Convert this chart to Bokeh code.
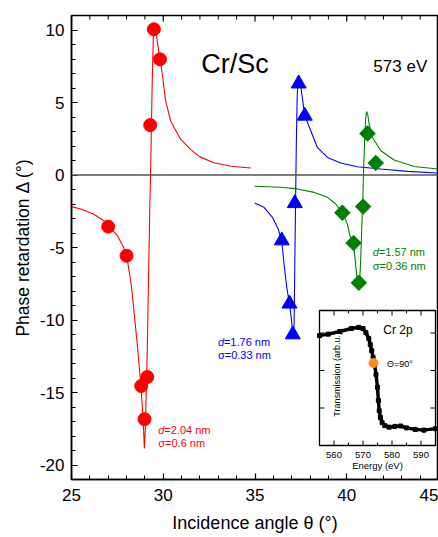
import numpy as np
from bokeh.plotting import figure
from bokeh.models import Range1d, SingleIntervalTicker, Span, Label, CustomJSTickFormatter
from bokeh.embed import file_html
from bokeh.resources import INLINE

FONT = "Liberation Sans"

# ---------------- data ----------------
# measured points
red_x = [27.0, 28.0, 28.8, 28.98, 29.13, 29.29, 29.49, 29.82]
red_y = [-3.56, -5.57, -14.55, -16.84, -13.93, 3.44, 10.05, 7.98]
blue_x = [36.46, 36.88, 37.06, 37.17, 37.38, 37.71]
blue_y = [-4.52, -8.88, -11.0, -1.95, 6.3, 4.08]
green_x = [39.76, 40.37, 40.66, 40.89, 41.13, 41.58]
green_y = [-2.6, -4.69, -7.43, -2.18, 2.86, 0.83]

# fitted curves
red_fit_x = [25.0, 25.5, 26.2, 26.7, 27.0, 27.5, 27.85, 28.05, 28.25, 28.4, 28.58, 28.71,
             28.8, 28.87, 28.93, 28.97, 29.02, 29.05, 29.09, 29.13, 29.2, 29.27, 29.31,
             29.35, 29.4, 29.46, 29.5, 29.6, 29.7, 29.82, 29.95, 30.13, 30.4, 30.95,
             31.5, 32.0, 32.75, 33.7, 34.77]
red_fit_y = [-2.18, -2.35, -2.69, -3.1, -3.45, -4.18, -5.02, -5.9, -7.5, -9.34, -11.63, -13.47,
             -14.85, -16.2, -17.6, -18.86, -17.6, -16.0, -13.9, -12.1, -7.0, -2.0, 0.0,
             3.0, 6.5, 9.5, 10.3, 9.9, 9.0, 7.98, 6.95, 5.11, 3.73, 2.45,
             1.75, 1.25, 0.85, 0.6, 0.48]
blue_fit_x = [34.98, 35.49, 35.95, 36.26, 36.46, 36.58, 36.73, 36.88, 36.99, 37.06, 37.1,
              37.13, 37.17, 37.21, 37.25, 37.3, 37.37, 37.45, 37.58, 37.71, 38.04, 38.4,
              38.95, 39.67, 40.58, 41.86, 43.31, 44.95]
blue_fit_y = [-1.93, -2.23, -2.92, -3.72, -4.52, -6.13, -7.74, -8.88, -10.03, -10.9, -11.2,
              -10.3, -6.0, -2.0, 2.0, 5.5, 6.8, 6.5, 5.34, 4.08, 3.05, 1.9,
              1.21, 0.83, 0.57, 0.41, 0.25, 0.14]
green_fit_x = [34.98, 36.4, 37.31, 38.22, 38.95, 39.4, 39.76, 40.03, 40.17, 40.37, 40.48,
               40.58, 40.65, 40.72, 40.77, 40.83, 40.88, 40.92, 40.98, 41.03, 41.08, 41.14,
               41.22, 41.4, 41.86, 42.58, 43.67, 44.95]
green_fit_y = [-0.78, -0.85, -0.96, -1.2, -1.54, -2.0, -2.6, -3.37, -4.18, -4.75, -6.13,
               -7.4, -7.7, -7.0, -5.4, -3.3, -1.5, 0.5, 2.5, 3.9, 4.38, 4.2,
               3.5, 2.59, 1.67, 1.03, 0.59, 0.41]

# inset: transmission spectrum
trans_e = [555, 558, 562, 566, 568.5, 570, 571, 572, 572.5, 573, 573.5, 574, 574.5, 575,
           575.3, 575.6, 576, 576.6, 577.5, 579, 581, 583, 585, 588, 591, 595]
trans_v = [2.93, 2.97, 3.04, 3.12, 3.15, 3.12, 3.01, 2.85, 2.69, 2.53, 2.35, 2.16, 1.89, 1.55,
           1.2, 0.93, 0.75, 0.61, 0.53, 0.49, 0.51, 0.52, 0.47, 0.43, 0.41, 0.45]
mark_e = [573.6]
mark_v = [2.2]

inset_xticks = [560, 570, 580, 590]
inset_yticks = [1, 2, 3]

# texts
x_title = "Incidence angle θ (°)"
y_title = "Phase retardation Δ (°)"
title_text = "Cr/Sc"
energy_text = "573 eV"
red_d, red_s = "=2.04 nm", "σ=0.6 nm"
blue_d, blue_s = "=1.76 nm", "σ=0.33 nm"
green_d, green_s = "=1.57 nm", "σ=0.36 nm"

# ---------------- layout ----------------
W, H = 438, 537
FL, FR, FT, FB = 71, 438, 15, 479
X0, X1, Y0, Y1 = 25, 45, -21, 11

RED, BLUE, GREEN = "#ff0000", "#0000ff", "#008000"

p = figure(width=W, height=H, x_range=Range1d(X0, X1), y_range=Range1d(Y0, Y1),
           output_backend="svg", toolbar_location=None,
           min_border_left=FL, min_border_right=W - FR, min_border_top=FT,
           min_border_bottom=H - FB)
p.grid.visible = False
p.outline_line_color = "black"
p.outline_line_width = 1.5
p.background_fill_color = "white"
p.border_fill_color = "white"

fmt = CustomJSTickFormatter(code="return tick.toString();")


def style_axis(ax, maj=6, mnr=4):
    ax.ticker = SingleIntervalTicker(interval=5, num_minor_ticks=5)
    ax.formatter = fmt
    ax.major_tick_in = maj
    ax.major_tick_out = 0
    ax.minor_tick_in = mnr
    ax.minor_tick_out = 0
    ax.axis_line_width = 1.5
    ax.axis_line_color = "black"
    ax.major_tick_line_width = 1.2
    ax.minor_tick_line_width = 1
    ax.major_tick_line_color = "black"
    ax.minor_tick_line_color = "black"
    ax.major_label_text_font = FONT
    ax.major_label_text_font_size = "17px"
    ax.major_label_text_color = "black"
    ax.axis_label_text_font = FONT
    ax.axis_label_text_font_style = "normal"
    ax.axis_label_text_color = "black"


xb = p.below[0]
yl = p.left[0]
style_axis(xb)
style_axis(yl)

xb.axis_label = x_title
xb.axis_label_text_font_size = "18px"
xb.major_label_standoff = 9
xb.axis_label_standoff = 9
yl.axis_label = y_title
yl.axis_label_text_font_size = "17.5px"
yl.major_label_standoff = 7
yl.axis_label_standoff = 4

ypx = (Y1 - Y0) / (FB - FT)   # data units per pixel (y)

# mirrored ticks on the top edge
top_major = list(range(X0, X1 + 1, 5))
top_minor = [v for v in range(X0, X1 + 1) if v % 5]
p.segment(x0=top_major, y0=[Y1] * len(top_major), x1=top_major,
          y1=[Y1 - 6 * ypx] * len(top_major), line_color="black", line_width=1.2)
p.segment(x0=top_minor, y0=[Y1] * len(top_minor), x1=top_minor,
          y1=[Y1 - 4 * ypx] * len(top_minor), line_color="black", line_width=1)

p.add_layout(Span(location=0, dimension="width", line_color="#555555", line_width=1.5))

# fitted curves
p.line(red_fit_x, red_fit_y, line_color=RED, line_width=1.1)
p.line(blue_fit_x, blue_fit_y, line_color=BLUE, line_width=1.1)
p.line(green_fit_x, green_fit_y, line_color=GREEN, line_width=1.1)

# measured points
p.scatter(red_x, red_y, marker="circle", size=13, fill_color=RED, line_color=RED)
p.scatter(blue_x, blue_y, marker="triangle", size=15, fill_color=BLUE, line_color=BLUE)
p.scatter(green_x, green_y, marker="square", angle=np.pi / 4, size=11,
          fill_color=GREEN, line_color=GREEN)

# text labels
p.add_layout(Label(x=32.07, y=7.64, text=title_text, text_font=FONT, text_font_size="27px",
                   text_baseline="alphabetic", text_color="black"))
p.add_layout(Label(x=41.45, y=7.5, text=energy_text, text_font=FONT, text_font_size="17px",
                   text_baseline="alphabetic", text_color="black"))


def param_label(x, y1, y2, dtxt, stxt, color):
    p.add_layout(Label(x=x, y=y1, text="d", text_font=FONT, text_font_size="11px",
                       text_font_style="italic", text_baseline="middle", text_color=color))
    p.add_layout(Label(x=x, y=y1, x_offset=6, text=dtxt, text_font=FONT, text_font_size="11px",
                       text_baseline="middle", text_color=color))
    p.add_layout(Label(x=x, y=y2, text=stxt, text_font=FONT, text_font_size="11px",
                       text_baseline="middle", text_color=color))


param_label(29.73, -17.6, -18.5, red_d, red_s, RED)
param_label(32.98, -11.52, -12.4, blue_d, blue_s, BLUE)
param_label(41.42, -5.3, -6.25, green_d, green_s, GREEN)

# ---------------- inset ----------------
INS_L, INS_R, INS_T, INS_B = 319, 435, 310, 445
E0, E1, T0, T1 = 555, 595, 0.0, 3.6
ek = (E1 - E0) / (INS_R - INS_L)
tk = (T1 - T0) / (INS_B - INS_T)
p.extra_x_ranges = {"E": Range1d(E0 - (INS_L - FL) * ek, E1 + (FR - INS_R) * ek)}
p.extra_y_ranges = {"T": Range1d(T0 - (FB - INS_B) * tk, T1 + (INS_T - FT) * tk)}
kw = dict(x_range_name="E", y_range_name="T")

p.quad(left=[E0], right=[E1], bottom=[T0], top=[T1], fill_color="white",
       line_color="black", line_width=1.3, **kw)

# inset ticks (inward)
maj_len, min_len = 5, 3
xt_minor = [t + 5 for t in inset_xticks[:-1]] + [555]
nx, nm, ny = len(inset_xticks), len(xt_minor), len(inset_yticks)
p.segment(x0=inset_xticks, y0=[T0] * nx, x1=inset_xticks, y1=[T0 + maj_len * tk] * nx,
          line_color="black", line_width=1, **kw)
p.segment(x0=inset_xticks, y0=[T1] * nx, x1=inset_xticks, y1=[T1 - maj_len * tk] * nx,
          line_color="black", line_width=1, **kw)
p.segment(x0=xt_minor, y0=[T0] * nm, x1=xt_minor, y1=[T0 + min_len * tk] * nm,
          line_color="black", line_width=1, **kw)
p.segment(x0=xt_minor, y0=[T1] * nm, x1=xt_minor, y1=[T1 - min_len * tk] * nm,
          line_color="black", line_width=1, **kw)
p.segment(x0=[E0] * ny, y0=inset_yticks, x1=[E0 + maj_len * ek] * ny, y1=inset_yticks,
          line_color="black", line_width=1, **kw)
p.segment(x0=[E1] * ny, y0=inset_yticks, x1=[E1 - maj_len * ek] * ny, y1=inset_yticks,
          line_color="black", line_width=1, **kw)

p.line(trans_e, trans_v, line_color="black", line_width=3.5, **kw)
p.scatter(trans_e, trans_v, marker="square", size=4, fill_color="black",
          line_color="black", **kw)
p.scatter(mark_e, mark_v, marker="circle", size=9, fill_color="#ff8c1a",
          line_color="#ff8c1a", **kw)

for t in inset_xticks:
    p.add_layout(Label(x=t, y=T0, y_offset=-6, text=str(t), text_font=FONT,
                       text_font_size="9.5px", text_align="center", text_baseline="top",
                       text_color="black", **kw))
p.add_layout(Label(x=575, y=T0, y_offset=-14, text="Energy (eV)", text_font=FONT,
                   text_font_size="9.5px", text_align="center", text_baseline="top",
                   text_color="black", **kw))
p.add_layout(Label(x=561.2, y=1.93, text="Transmission  (arb.u.)", angle=np.pi / 2,
                   text_font=FONT, text_font_size="9px", text_align="center",
                   text_baseline="middle", text_color="black", **kw))
p.add_layout(Label(x=577, y=3.07, text="Cr 2p", text_font=FONT, text_font_size="12px",
                   text_baseline="middle", text_color="black", **kw))
p.add_layout(Label(x=578.3, y=2.18, text="Θ=90°", text_font=FONT, text_font_size="9px",
                   text_baseline="middle", text_color="black", **kw))

open("out.html", "w").write(file_html(p, INLINE))
